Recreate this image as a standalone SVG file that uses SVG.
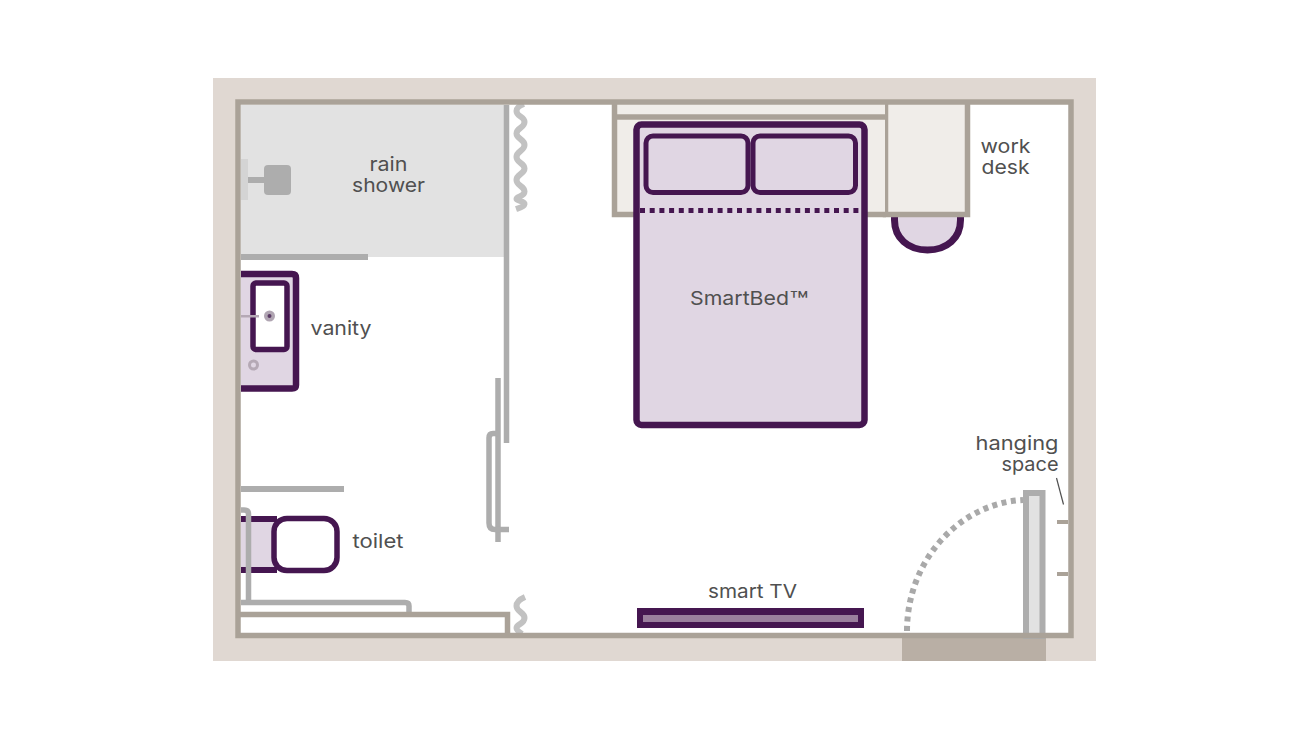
<svg xmlns="http://www.w3.org/2000/svg" width="1310" height="737" viewBox="0 0 1310 737">
<style>
.wall{fill:none;stroke:#aaa298;stroke-width:5.5}
.gray{fill:none;stroke:#adadad;stroke-width:5.5}
.wave{fill:none;stroke:#c2c2c2;stroke-width:6}
.plum{fill:#e0d6e3;stroke:#451650;stroke-width:6.5}
.chair{stroke-width:7}
.white{fill:#fff;stroke:#451650;stroke-width:5.500}
.cream{fill:#f0ede9}
text{font-family:"Inter","Liberation Sans",sans-serif;font-size:19px;fill:#505050;text-anchor:middle}
</style>
<rect width="1310" height="737" fill="#fff"/>
<rect x="213" y="78" width="883" height="583" fill="#e0d8d2"/>
<rect x="238" y="102" width="833" height="533.500" fill="#fff"/>
<rect x="902" y="638" width="144" height="23" fill="#b9afa5"/>
<g id="rain-shower">
<rect x="241" y="105" width="263" height="152" fill="#e2e2e2"/>
<rect x="241" y="159" width="7" height="41" fill="#d4d4d4"/>
<rect x="248" y="177" width="18" height="6" fill="#adadad"/>
<rect x="264" y="165" width="27" height="30" rx="4" fill="#adadad"/>
<rect x="241" y="254" width="127" height="6" fill="#adadad"/>
<text x="388.500" y="171" textLength="38" lengthAdjust="spacingAndGlyphs">rain</text>
<text x="388.500" y="192" textLength="73" lengthAdjust="spacingAndGlyphs">shower</text>
</g>
<g id="work-desk">
<path class="plum chair" d="M894.500 215V220C894.500 238 908 250 927.500 250C947 250 960.500 238 960.500 220V215"/>
<rect class="cream" x="885" y="104" width="81" height="110"/>
<path class="wall" d="M885.500 102V214.500H967.500V102"/>
<text x="1005.500" y="153" textLength="50" lengthAdjust="spacingAndGlyphs">work</text>
<text x="1005.500" y="174" textLength="48" lengthAdjust="spacingAndGlyphs">desk</text>
</g>
<g id="headboard">
<rect class="cream" x="615" y="104" width="270" height="110"/>
<path class="wall" d="M614.500 102V214.500H886M614.500 117H886"/>
</g>
<g id="smartbed">
<rect class="plum" x="636.500" y="124.500" width="228" height="300.500" rx="5"/>
<rect x="646" y="136" width="102" height="56.500" rx="7" fill="none" stroke="#451650" stroke-width="5"/>
<rect x="753" y="136" width="102.500" height="56.500" rx="7" fill="none" stroke="#451650" stroke-width="5"/>
<path d="M640 210.500H860" fill="none" stroke="#451650" stroke-width="5" stroke-dasharray="5 4.700"/>
<text style="text-anchor:start"><tspan x="690" y="305" textLength="99" lengthAdjust="spacingAndGlyphs">SmartBed</tspan><tspan x="789.500" y="310" font-size="26" textLength="19" lengthAdjust="spacingAndGlyphs">™</tspan></text>
</g>
<g id="vanity">
<path class="plum" d="M241 274H292Q296 274 296 278V385Q296 388.500 292 388.500H241"/>
<rect class="white" x="253" y="283" width="34" height="66.500" rx="3"/>
<rect x="241" y="315" width="18" height="2.500" fill="#b5a9b5"/>
<circle cx="269.500" cy="316" r="5.500" fill="#b0a5b2"/>
<circle cx="269.500" cy="316" r="2" fill="#5a3a64"/>
<circle cx="253.500" cy="365" r="4" fill="none" stroke="#b5a9b5" stroke-width="3"/>
<text x="341" y="335" textLength="61" lengthAdjust="spacingAndGlyphs">vanity</text>
</g>
<g id="toilet">
<rect x="241" y="518" width="36" height="52" fill="#e0d6e3"/>
<path d="M241 519H277M241 570H277" fill="none" stroke="#451650" stroke-width="6"/>
<rect class="white" x="274" y="518.500" width="63" height="52" rx="13"/>
<rect x="241" y="486" width="103" height="6" fill="#adadad"/>
<path class="gray" d="M241 510H244Q248.500 510 248.500 514V601"/>
<path class="gray" d="M241 602.500H405Q409 602.500 409 606V613"/>
<text x="378" y="548" textLength="51" lengthAdjust="spacingAndGlyphs">toilet</text>
</g>
<g id="smart-tv">
<rect x="637" y="608" width="227" height="20" fill="#451650"/>
<rect x="643" y="615" width="215" height="7" fill="#9a7f9d"/>
<text x="752.500" y="598" textLength="89" lengthAdjust="spacingAndGlyphs">smart TV</text>
</g>
<g id="entry-door">
<path d="M907 631C907 560 960 503 1023 500" fill="none" stroke="#a9a9a9" stroke-width="6" stroke-dasharray="5 4.500"/>
<rect x="1026" y="493" width="16.500" height="143" fill="#e2e2e2" stroke="#adadad" stroke-width="6"/>
<rect x="1057" y="520" width="11" height="4" fill="#aaa298"/>
<rect x="1057" y="572" width="11" height="4" fill="#aaa298"/>
<text x="1017" y="450" textLength="83" lengthAdjust="spacingAndGlyphs">hanging</text>
<text x="1030" y="471" textLength="57" lengthAdjust="spacingAndGlyphs">space</text>
</g>
<g id="connectors">
<path d="M1056.500 478L1063.500 504.500" fill="none" stroke="#505050" stroke-width="1.200"/>
</g>
<g id="walls">
<path class="gray" d="M506.500 105V443"/>
<path class="gray" d="M498 378V542"/>
<path class="gray" d="M498 433.500H493Q489 433.500 489 438V523Q489 529.500 495 529.500H509"/>
<path class="wave" d="M524 104C518 106 516.500 108 516.500 111C516.500 117 524.500 116 524.500 122C524.500 128 516.500 128 516.500 133.500C516.500 139 524.500 139 524.500 145C524.500 151 516.500 151 516.500 157C516.500 163 524.500 163 524.500 168.500C524.500 174 516.500 174 516.500 180C516.500 186 524.500 186 524.500 191.500C524.500 197 516.500 196 516.500 199C516.500 201 525 201 524.500 204C524 207 519 208 516 209"/>
<path class="wave" d="M525 597C518 600 516.500 603 516.500 606C516.500 612 524.500 612 524.500 618C524.500 624 516.500 624 516.500 628C516.500 630 519 632 522 634"/>
<rect class="wall" x="238" y="102" width="833" height="533.500"/>
<path class="wall" d="M238 614.500H507.500V635"/>
</g>
</svg>
